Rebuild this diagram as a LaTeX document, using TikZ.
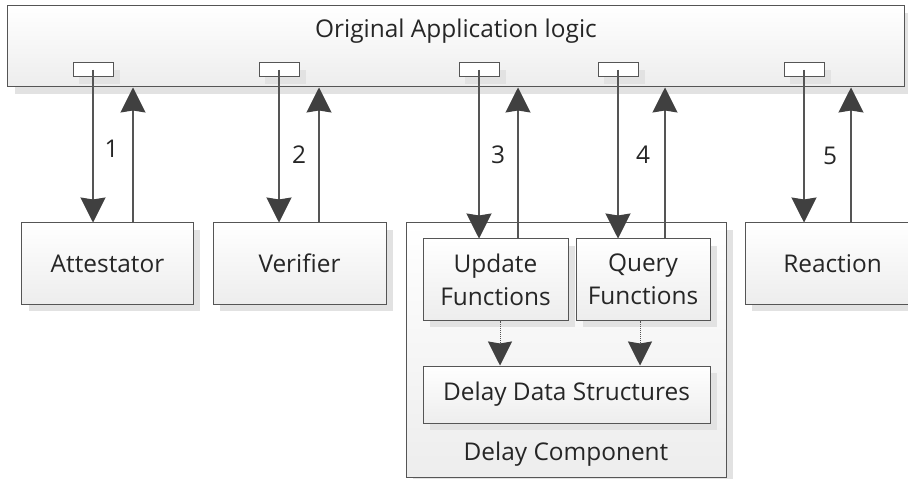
\documentclass[tikz,border=0pt]{standalone}
\usepackage{fontspec}
\setmainfont{Open Sans}
\usetikzlibrary{arrows.meta}
\definecolor{edgegray}{HTML}{555555}
\definecolor{headgray}{HTML}{404040}
\definecolor{shadowgray}{HTML}{E2E2E2}
\definecolor{boxbottom}{HTML}{EDEDED}
\newcommand\labelfont{\fontsize{24.5}{33}\selectfont}
\tikzset{
  box/.style={draw=edgegray, line width=1bp, inner sep=0pt, align=center,
    top color=white, bottom color=boxbottom, text=black!85,
    font=\labelfont},
  portbox/.style={draw=edgegray, line width=1bp, fill=white, inner sep=0pt,
    minimum width=40bp, minimum height=14bp},
  boxshadow/.style={fill=shadowgray, draw=none},
  arr/.style={draw=edgegray, line width=1.1bp,
    -{Stealth[length=25bp, width=25bp, inset=2bp, fill=headgray, color=headgray]}},
  arrshadow/.style={draw=shadowgray, line width=1.1bp,
    -{Stealth[length=25bp, width=25bp, inset=2bp, fill=shadowgray, color=shadowgray]}},
  dotarr/.style={draw=edgegray, line width=1bp, densely dotted,
    -{Stealth[length=24bp, width=24bp, inset=2bp, fill=headgray, color=headgray]}},
  dotshadow/.style={draw=shadowgray, line width=1bp, densely dotted,
    -{Stealth[length=24bp, width=24bp, inset=2bp, fill=shadowgray, color=shadowgray]}},
  txt/.style={font=\labelfont, inner sep=0pt, text=black!85},
}
\begin{document}
\begin{tikzpicture}[x=1bp, y=-1bp]
\useasboundingbox (0,0) rectangle (908,479);
\clip (0,0) rectangle (908,479);

% drop shadows of the boxes
\fill[boxshadow] (15,13) rectangle (911,94);
\fill[boxshadow] (29,230) rectangle (200,311);
\fill[boxshadow] (220,230) rectangle (393,311);
\fill[boxshadow] (413,230) rectangle (733,484);
\fill[boxshadow] (752,230) rectangle (927,311);

% main application box with its interface ports
\node[box, minimum width=896bp, minimum height=81bp] (app) at (456,46.5) {};
\node[txt] (apptitle) at (456,31) {Original Application logic};
\foreach \n/\x in {p1/93, p2/279, p3/479, p4/618, p5/804}{
  \fill[boxshadow] (\x-14,70) rectangle (\x+27,84);
  \node[portbox] (\n) at (\x,70) {};
}

% component boxes
\node[box, minimum width=171bp, minimum height=81bp] (att) at (107.5,263.5) {Attestator};
\node[box, minimum width=173bp, minimum height=81bp] (ver) at (299.5,263.5) {Verifier};
\node[box, minimum width=320bp, minimum height=254bp] (dc) at (566,350) {};
\node[txt] (dclabel) at (566,454) {Delay Component};
\node[box, minimum width=175bp, minimum height=81bp] (rea) at (832.5,263.5) {Reaction};

% boxes inside the delay component
\fill[boxshadow] (430,246) rectangle (575,327);
\fill[boxshadow] (583,246) rectangle (717,327);
\fill[boxshadow] (430,373) rectangle (717,430);
\node[box, minimum width=145bp, minimum height=81bp] (upd) at (495.5,279.5) {Update\\Functions};
\node[box, minimum width=134bp, minimum height=81bp] (qry) at (643,279.5) {Query\\Functions};
\node[box, minimum width=287bp, minimum height=57bp] (dds) at (566.5,394.5) {Delay Data Structures};

% x positions of the return lines and of the internal links
\coordinate (u1) at (133,0);
\coordinate (u2) at (319,0);
\coordinate (u3) at (518,0);
\coordinate (u4) at (665,0);
\coordinate (u5) at (851,0);
\coordinate (d1) at (500,0);
\coordinate (d2) at (640,0);

% shadows of the call arrows
\begin{scope}[shift={(6,7)}]
\draw[arrshadow] (p1.center) -- (p1.center |- att.north);
\draw[arrshadow] (p2.center) -- (p2.center |- ver.north);
\draw[arrshadow] (p3.center) -- (p3.center |- upd.north);
\draw[arrshadow] (p4.center) -- (p4.center |- qry.north);
\draw[arrshadow] (p5.center) -- (p5.center |- rea.north);
\draw[dotshadow] (d1 |- upd.south) -- (d1 |- dds.north);
\draw[dotshadow] (d2 |- qry.south) -- (d2 |- dds.north);
\end{scope}

% calls from the application into the components
\draw[arr] (p1.center) -- (p1.center |- att.north);
\draw[arr] (p2.center) -- (p2.center |- ver.north);
\draw[arr] (p3.center) -- (p3.center |- upd.north);
\draw[arr] (p4.center) -- (p4.center |- qry.north);
\draw[arr] (p5.center) -- (p5.center |- rea.north);

% returns back to the application
\draw[arr] (u1 |- att.north) -- (u1 |- app.south);
\draw[arr] (u2 |- ver.north) -- (u2 |- app.south);
\draw[arr] (u3 |- upd.north) -- (u3 |- app.south);
\draw[arr] (u4 |- qry.north) -- (u4 |- app.south);
\draw[arr] (u5 |- rea.north) -- (u5 |- app.south);

% links to the delay data structures
\draw[dotarr] (d1 |- upd.south) -- (d1 |- dds.north);
\draw[dotarr] (d2 |- qry.south) -- (d2 |- dds.north);

% step numbers
\node[txt] (n1) at (111.5,149) {1};
\node[txt] (n2) at (299,154.5) {2};
\node[txt] (n3) at (498,155) {3};
\node[txt] (n4) at (643,155) {4};
\node[txt] (n5) at (830,156) {5};
\end{tikzpicture}
\end{document}
